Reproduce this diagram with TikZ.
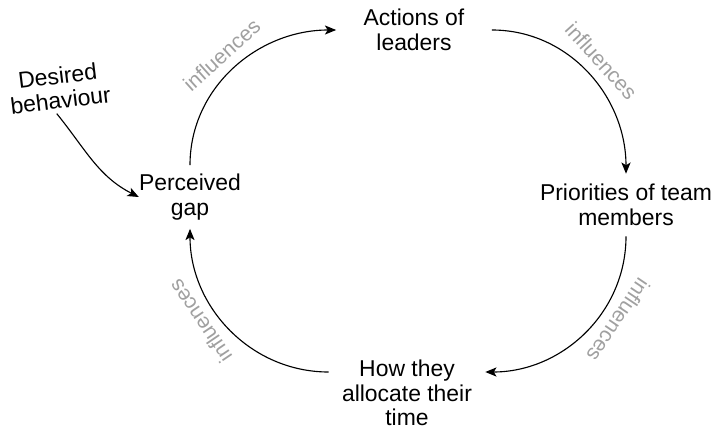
\documentclass[tikz,border=0pt]{standalone}
\usepackage{fontspec}
\setmainfont{Liberation Sans}
\usetikzlibrary{arrows.meta}

\definecolor{labelgray}{RGB}{160,160,160}

\begin{document}
\begin{tikzpicture}[
		box/.style={inner sep=0pt, align=center, font=\fontsize{16.3}{17.5}\selectfont},
		flow/.style={line width=0.8pt, -{Stealth[length=8pt,width=6.5pt,inset=2pt]}},
		lbl/.style={sloped, allow upside down, above=5pt, inner sep=2pt,
			text=labelgray, font=\fontsize{15}{16}\selectfont}]
		\useasboundingbox (0,0) rectangle (17.875,10.725);
		
		% the four stations of the loop
		\node[box, minimum height=1.58cm] (perceived) at (4.75,5.8) {Perceived\\gap};
		\node[box, minimum width=3.88cm] (actions) at (10.35,9.975) {Actions of\\leaders};
		\node[box, minimum height=1.55cm] (priorities) at (15.65,5.6) {Priorities of team\\members};
		\node[box, minimum width=3.9cm] (how) at (10.175,0.9) {How they\\allocate their\\time};
		\node[box, rotate=7] (desired) at (1.475,8.525) {Desired\\behaviour};
		
		% quarter arcs round the loop
		\draw[flow] (perceived.north) to[out=90,in=180] node[lbl, pos=0.5] {influences} (actions.west);
		\draw[flow] (actions.east) to[out=0,in=90] node[lbl, pos=0.5] {influences} (priorities.north);
		\draw[flow] (priorities.south) to[out=-90,in=0] node[lbl, pos=0.36] {influences} ([yshift=0.525cm]how.east);
		\draw[flow] ([yshift=0.525cm]how.west) to[out=180,in=-90] node[lbl, pos=0.61] {influences} (perceived.south);
		
		\draw[flow] ([shift={(-0.12,-0.12)}]desired.south) to[out=-51,in=153] (perceived.west);
\end{tikzpicture}
\end{document}
